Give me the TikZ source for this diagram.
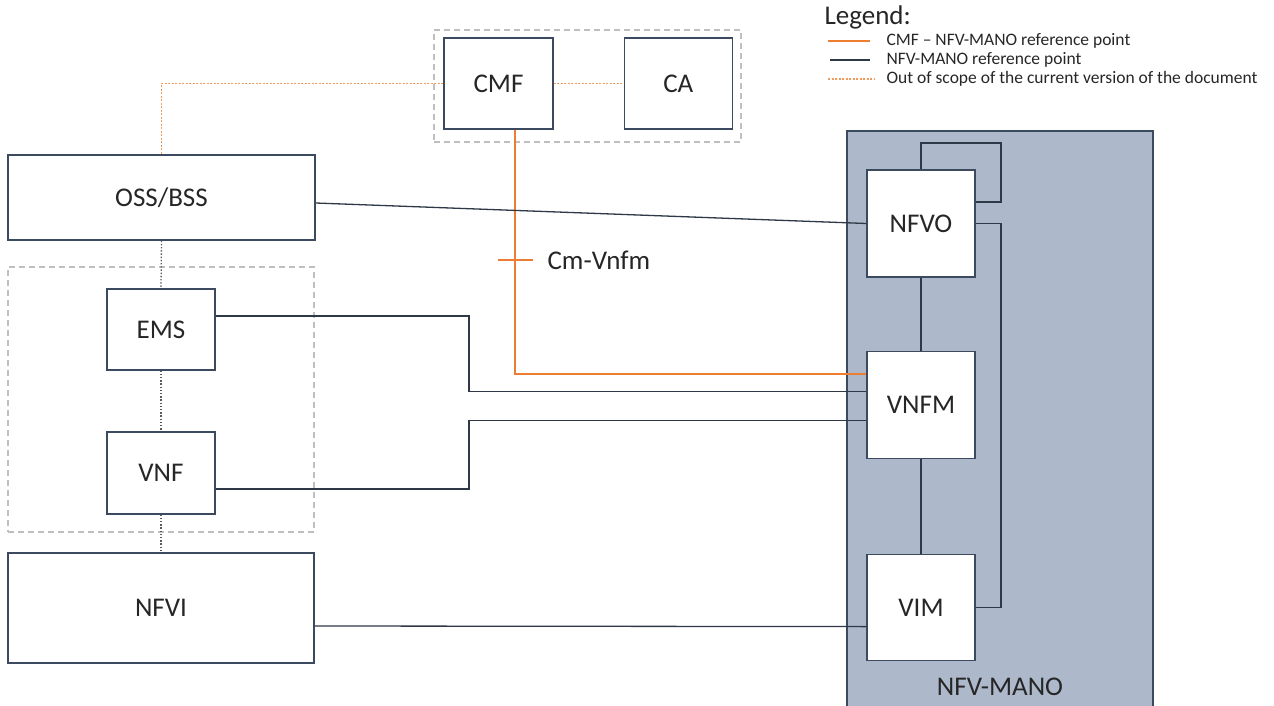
\documentclass[tikz,border=0pt]{standalone}
\usepackage{fontspec}
\setmainfont{Carlito}
\usepackage{xcolor}
\usetikzlibrary{positioning}

\definecolor{navy}{HTML}{3B4A5E}
\definecolor{wire}{HTML}{2E3847}
\definecolor{cmorange}{HTML}{ED7D31}
\definecolor{paleorange}{HTML}{F09A5C}
\definecolor{grpgray}{HTML}{BFBFBF}
\definecolor{dotgray}{HTML}{5A5A5A}
\definecolor{manofill}{HTML}{ADB9CA}

\begin{document}
\begin{tikzpicture}[
		x=1pt, y=-1pt,
		every node/.style={font=\fontsize{27}{32}\selectfont, text=black!85},
		box/.style={draw=navy, line width=1.3pt, fill=white, inner sep=0pt, align=center, minimum width=108pt, minimum height=107pt},
		widebox/.style={box, minimum width=307pt},
		grp/.style={draw=grpgray, line width=1.1pt, dash pattern=on 6pt off 4pt, inner sep=0pt},
		mano/.style={draw=navy, line width=1.3pt, fill=manofill, inner sep=0pt},
		link/.style={draw=wire, line width=1.3pt},
		cmlink/.style={draw=cmorange, line width=1.6pt},
		oos/.style={draw=paleorange, line width=1.8pt, dash pattern=on 2pt off 1.5pt},
		oosgray/.style={draw=dotgray, line width=1.3pt, dash pattern=on 1.4pt off 1.8pt},
		legtext/.style={font=\fontsize{17.5}{21}\selectfont, anchor=west}
		]
		\useasboundingbox (0,0) rectangle (1274,706);
		
		\node[mano, minimum width=306pt, minimum height=582pt] (manobox) at (1000,422) {};
		\node (manolbl) at (1000,687) {NFV-MANO};
		
		\node[grp, minimum width=307pt, minimum height=112pt] (cmfgrp) at (587.5,86) {};
		\node[grp, minimum width=306pt, minimum height=265pt] (vnfgrp) at (161,399.5) {};
		
		\node[box, minimum width=109pt, minimum height=91pt] (cmf) at (498.5,83.5) {CMF};
		\node[box, minimum height=91pt, right=70pt of cmf] (ca) {CA};
		
		\node[widebox, minimum height=85pt] (oss) at (161.5,197.5) {OSS/BSS};
		\node[box, minimum height=81pt] (ems) at (161,329.5) {EMS};
		\node[box, minimum height=82pt] (vnf) at (161,473) {VNF};
		\node[widebox, minimum width=306pt, minimum height=110pt] (nfvi) at (161,608) {NFVI};
		
		\node[box] (nfvo) at (921,223.5) {NFVO};
		\node[box, below=73pt of nfvo] (vnfm) {VNFM};
		\node[box, minimum height=106pt, below=95pt of vnfm] (vim) {VIM};
		
		\node[anchor=west] (legend) at (821,17) {Legend:};
		\node[legtext] (leg1) at (883,41) {CMF -- NFV-MANO reference point};
		\node[legtext] (leg2) at (883,60) {NFV-MANO reference point};
		\node[legtext] (leg3) at (883,79) {Out of scope of the current version of the document};
		\draw[cmlink] ([xshift=-55pt]leg1.west) -- ([xshift=-13pt]leg1.west);
		\draw[link] ([xshift=-53pt]leg2.west) -- ([xshift=-13pt]leg2.west);
		\draw[oos] ([xshift=-55pt]leg3.west) -- ([xshift=-8pt]leg3.west);
		
		\coordinate (jog) at (469,0);
		\coordinate (loopc) at (1001,143);
		\coordinate (cmtick) at (515,260);
		
		\draw[oos] (cmf.west) -| (oss.north);
		\draw[oos] (cmf.east) -- (ca.west);
		
		\draw[oosgray] (oss.south) -- (ems.north);
		\draw[oosgray] (ems.south) -- (vnf.north);
		\draw[oosgray] (vnf.south) -- (nfvi.north);
		
		\draw[cmlink] ([xshift=16.5pt]cmf.south) |- ([yshift=31pt]vnfm.west);
		\draw[cmlink] ([xshift=-17pt]cmtick) -- ([xshift=18pt]cmtick);
		\node[anchor=west] (cmlbl) at ([xshift=29pt]cmtick) {Cm-Vnfm};
		
		\draw[link] ([yshift=-5.5pt]oss.east) -- (nfvo.west);
		\draw[link] ([yshift=13.5pt]ems.east) -- ([yshift=13.5pt]ems.east -| jog) |- ([yshift=13.5pt]vnfm.west);
		\draw[link] ([yshift=-16pt]vnf.east) -- ([yshift=-16pt]vnf.east -| jog) |- ([yshift=-15.5pt]vnfm.west);
		\draw[link] ([yshift=-18pt]nfvi.east) -- ([yshift=-19pt]vim.west);
		
		\draw[link] (nfvo.south) -- (vnfm.north);
		\draw[link] (vnfm.south) -- (vim.north);
		\draw[link] (nfvo.north) |- (loopc) |- ([yshift=21.5pt]nfvo.east);
		\draw[link] (nfvo.east) -- (nfvo.east -| loopc) |- (vim.east);
		
	\end{tikzpicture}
\end{document}
